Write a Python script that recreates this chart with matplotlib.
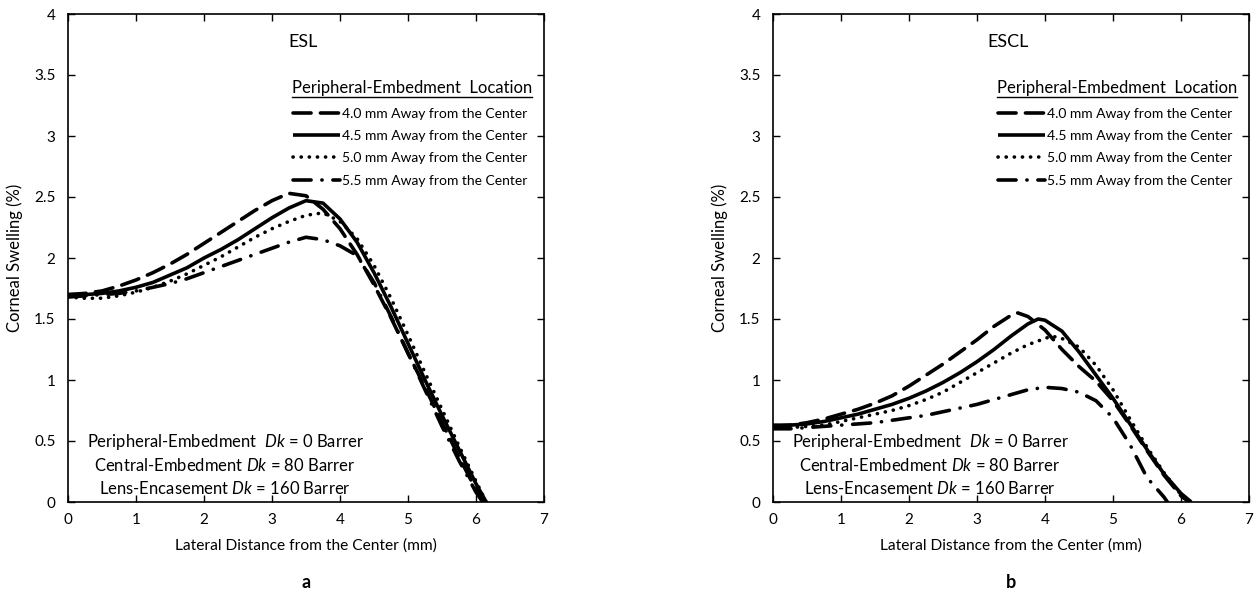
import matplotlib.pyplot as plt
from matplotlib.lines import Line2D

plt.rcParams['font.family'] = ['Lato', 'DejaVu Sans']
plt.rcParams['mathtext.fontset'] = 'custom'
plt.rcParams['mathtext.it'] = 'Lato:italic'
plt.rcParams['mathtext.rm'] = 'Lato'

# ---- data ----
labels = ['4.0 mm Away from the Center', '4.5 mm Away from the Center',
          '5.0 mm Away from the Center', '5.5 mm Away from the Center']

# panel a (ESL)
esl_x_40 = [0, 0.25, 0.5, 0.75, 1, 1.25, 1.5, 1.75, 2, 2.25, 2.5, 2.75, 3, 3.25, 3.5, 3.75,
            4, 4.25, 4.5, 4.75, 5, 5.25, 5.5, 5.75, 6, 6.1]
esl_y_40 = [1.70, 1.71, 1.73, 1.77, 1.82, 1.88, 1.95, 2.03, 2.12, 2.21, 2.30, 2.39, 2.47, 2.53,
            2.51, 2.40, 2.24, 2.03, 1.78, 1.51, 1.22, 0.94, 0.65, 0.37, 0.10, 0.0]
esl_x_45 = [0, 0.25, 0.5, 0.75, 1, 1.25, 1.5, 1.75, 2, 2.25, 2.5, 2.75, 3, 3.25, 3.5, 3.75,
            4, 4.25, 4.5, 4.75, 5, 5.25, 5.5, 5.75, 6, 6.15]
esl_y_45 = [1.70, 1.70, 1.71, 1.73, 1.76, 1.80, 1.86, 1.92, 2.00, 2.07, 2.15, 2.24, 2.33, 2.41,
            2.47, 2.45, 2.32, 2.13, 1.88, 1.60, 1.30, 1.00, 0.71, 0.43, 0.15, 0.0]
esl_x_50 = [0, 0.25, 0.5, 0.75, 1, 1.25, 1.5, 1.75, 2, 2.25, 2.5, 2.75, 3, 3.25, 3.5, 3.75,
            4, 4.25, 4.5, 4.75, 5, 5.25, 5.5, 5.75, 6, 6.15]
esl_y_50 = [1.68, 1.67, 1.67, 1.69, 1.72, 1.76, 1.81, 1.87, 1.94, 2.01, 2.09, 2.17, 2.24, 2.30,
            2.35, 2.37, 2.30, 2.16, 1.94, 1.67, 1.37, 1.06, 0.76, 0.46, 0.17, 0.0]
esl_x_55 = [0, 0.25, 0.5, 0.75, 1, 1.25, 1.5, 1.75, 2, 2.25, 2.5, 2.75, 3, 3.25, 3.5, 3.75,
            4, 4.25, 4.5, 4.75, 5, 5.25, 5.5, 5.75, 6, 6.1]
esl_y_55 = [1.68, 1.69, 1.70, 1.71, 1.73, 1.76, 1.79, 1.83, 1.88, 1.93, 1.98, 2.03, 2.08, 2.13,
            2.17, 2.15, 2.10, 2.02, 1.80, 1.52, 1.22, 0.92, 0.62, 0.34, 0.08, 0.0]

# panel b (ESCL)
escl_x_40 = [0, 0.25, 0.5, 0.75, 1, 1.25, 1.5, 1.75, 2, 2.25, 2.5, 2.75, 3, 3.25, 3.5, 3.6,
             3.75, 4, 4.25, 4.5, 4.75, 5, 5.25, 5.5, 5.75, 6, 6.12]
escl_y_40 = [0.62, 0.63, 0.65, 0.68, 0.72, 0.76, 0.81, 0.87, 0.95, 1.04, 1.13, 1.23, 1.33, 1.44,
             1.53, 1.55, 1.52, 1.41, 1.25, 1.11, 0.99, 0.83, 0.63, 0.42, 0.22, 0.05, 0.0]
escl_x_45 = [0, 0.25, 0.5, 0.75, 1, 1.25, 1.5, 1.75, 2, 2.25, 2.5, 2.75, 3, 3.25, 3.5, 3.75,
             3.9, 4, 4.25, 4.5, 4.75, 5, 5.25, 5.5, 5.75, 6, 6.15]
escl_y_45 = [0.63, 0.63, 0.64, 0.66, 0.69, 0.72, 0.76, 0.80, 0.85, 0.91, 0.98, 1.06, 1.15, 1.25,
             1.36, 1.46, 1.50, 1.49, 1.40, 1.23, 1.04, 0.85, 0.64, 0.43, 0.23, 0.07, 0.0]
escl_x_50 = [0, 0.25, 0.5, 0.75, 1, 1.25, 1.5, 1.75, 2, 2.25, 2.5, 2.75, 3, 3.25, 3.5, 3.75,
             4, 4.1, 4.25, 4.5, 4.75, 5, 5.25, 5.5, 5.75, 6, 6.1]
escl_y_50 = [0.61, 0.61, 0.62, 0.63, 0.66, 0.69, 0.72, 0.75, 0.79, 0.84, 0.90, 0.98, 1.06, 1.14,
             1.22, 1.29, 1.34, 1.36, 1.34, 1.27, 1.12, 0.92, 0.68, 0.45, 0.24, 0.06, 0.0]
escl_x_55 = [0, 0.25, 0.5, 0.75, 1, 1.25, 1.5, 1.75, 2, 2.25, 2.5, 2.75, 3, 3.25, 3.5, 3.75,
             4, 4.25, 4.5, 4.75, 5, 5.25, 5.5, 5.75, 5.8]
escl_y_55 = [0.60, 0.60, 0.61, 0.62, 0.63, 0.64, 0.65, 0.67, 0.69, 0.71, 0.74, 0.77, 0.80, 0.84,
             0.88, 0.92, 0.94, 0.93, 0.90, 0.83, 0.69, 0.47, 0.20, 0.04, 0.0]

dk_lines = ['Peripheral-Embedment  $\\it{Dk}$ = 0 Barrer',
            'Central-Embedment $\\it{Dk}$ = 80 Barrer',
            'Lens-Encasement $\\it{Dk}$ = 160 Barrer']

# line styles for the 4 locations
styles = [dict(ls=(0, (5, 2.6)), dash_capstyle='round'),
          dict(ls='-'),
          dict(ls=(0, (0.05, 2.2)), dash_capstyle='round'),
          dict(ls=(0, (5, 3, 0.05, 3)), dash_capstyle='round')]

fig = plt.figure(figsize=(12.55, 5.94), dpi=100)
ax_a = fig.add_axes([68 / 1255, 1 - 502 / 594, 476 / 1255, 488 / 594])
ax_b = fig.add_axes([773 / 1255, 1 - 502 / 594, 476 / 1255, 488 / 594])

panels = [
    (ax_a, 'ESL', 'a', [(esl_x_40, esl_y_40), (esl_x_45, esl_y_45),
                        (esl_x_50, esl_y_50), (esl_x_55, esl_y_55)]),
    (ax_b, 'ESCL', 'b', [(escl_x_40, escl_y_40), (escl_x_45, escl_y_45),
                         (escl_x_50, escl_y_50), (escl_x_55, escl_y_55)]),
]

for ax, name, letter, series in panels:
    for (xs, ys), st, lab in zip(series, styles, labels):
        ax.plot(xs, ys, color='black', lw=2.6, label=lab, solid_capstyle='butt', **st)

    ax.set_xlim(0, 7)
    ax.set_ylim(0, 4)
    ax.set_xticks(range(0, 8))
    ax.set_yticks([0, 0.5, 1, 1.5, 2, 2.5, 3, 3.5, 4])
    ax.set_yticklabels(['0', '0.5', '1', '1.5', '2', '2.5', '3', '3.5', '4'])
    ax.tick_params(direction='in', length=5, width=1, top=True, right=True,
                   labelsize=11, colors='black')
    ax.tick_params(axis='x', pad=8)
    ax.tick_params(axis='y', pad=9)
    for sp in ax.spines.values():
        sp.set_linewidth(1.2)

    ax.set_xlabel('Lateral Distance from the Center (mm)', fontsize=11.2, labelpad=8)
    ax.set_ylabel('Corneal Swelling (%)', fontsize=12, labelpad=8)

    ax.text(3.45, 3.77, name, fontsize=13, ha='center', va='center')
    ax.text(0.5, -0.165, letter, transform=ax.transAxes, fontsize=13,
            fontweight='bold', ha='center', va='center')

    # legend title (underlined) and entries
    ax.text(0.975, 0.848, 'Peripheral-Embedment  Location', transform=ax.transAxes,
            fontsize=12, ha='right', va='center')
    ax.legend(loc='upper left', bbox_to_anchor=(0.473, 0.808), frameon=False,
              fontsize=10, handlelength=3.4, handletextpad=0.1, labelspacing=0.74,
              borderpad=0, borderaxespad=0)

    # Dk annotation
    for i, s in enumerate(dk_lines):
        ax.text(0.33, 0.123 - i * 0.048, s, transform=ax.transAxes, fontsize=12,
                ha='center', va='center')

# underline legend titles
fig.canvas.draw()
inv = fig.transFigure.inverted()
for ax in (ax_a, ax_b):
    for t in ax.texts:
        if t.get_text().startswith('Peripheral-Embedment  Location'):
            bb = t.get_window_extent()
            (x0, y0), (x1, _) = inv.transform([(bb.x0, bb.y0), (bb.x1, bb.y0)])
            fig.add_artist(Line2D([x0, x1], [y0 - 0.001, y0 - 0.001],
                                  transform=fig.transFigure, color='black', lw=1))

fig.savefig('out.png', dpi=100)
